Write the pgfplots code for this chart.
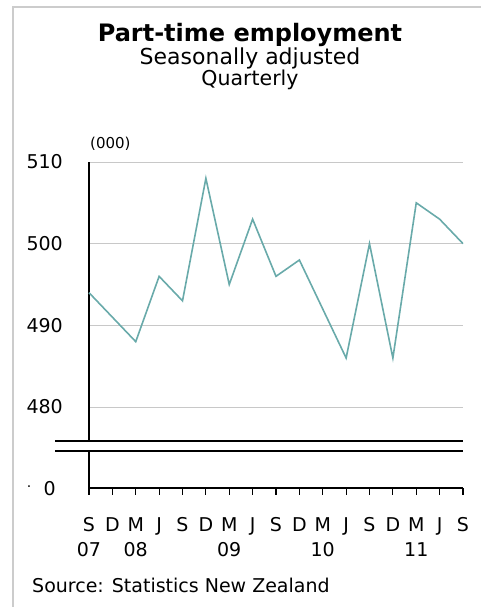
\documentclass[border=0pt]{standalone}
\usepackage{pgfplots}
\pgfplotsset{compat=1.18}
\usepackage{fontspec}
\setmainfont{DejaVu Sans}
\definecolor{serie}{RGB}{105,170,170}
\definecolor{frame}{RGB}{204,204,204}
\definecolor{gridc}{RGB}{200,200,200}
\begin{document}
\begin{tikzpicture}[x=1pt,y=1pt]
\useasboundingbox (0,0) rectangle (481,607);
\draw[frame, line width=2.5pt] (13,0) -- (13,600) -- (481,600);
% titles
\node[anchor=base, font=\bfseries\fontsize{24}{28}\selectfont] at (250,565.3) {Part-time employment};
\node[anchor=base, font=\fontsize{22}{26}\selectfont] at (250,542) {Seasonally adjusted};
\node[anchor=base, font=\fontsize{20.5}{24}\selectfont] at (250,521) {Quarterly};
\node[anchor=base west, inner sep=0pt, font=\fontsize{15}{18}\selectfont] at (90,458) {(000)};
\node[anchor=base west, inner sep=0pt, font=\fontsize{19}{22}\selectfont] at (32,14) {Source: Statistics New Zealand};
\node[inner sep=0pt, font=\fontsize{14}{16}\selectfont] at (29,118) {·};
% main axis
\begin{axis}[
  at={(89pt,166pt)}, anchor=south west,
  width=374pt, height=279pt, scale only axis,
  xmin=0, xmax=16, ymin=475.84, ymax=510,
  axis x line=none, axis y line=left,
  y axis line style={-, line width=1.5pt, black},
  ytick={480,490,500,510},
  major tick length=0pt,
  ymajorgrids, grid style={gridc, line width=0.9pt},
  /pgf/number format/assume math mode=true,
  yticklabel style={font=\fontsize{19}{22}\selectfont, anchor=east, inner sep=0pt, xshift=-26pt},
  clip=false,
]
\addplot[serie, line width=1.6pt] coordinates {
(0,494) (1,491) (2,488) (3,496) (4,493) (5,508) (6,495) (7,503) (8,496)
(9,498) (10,492) (11,486) (12,500) (13,486) (14,505) (15,503) (16,500)
};
\end{axis}
% break lines
\draw[black, line width=1.5pt] (55,166) -- (463,166);
\draw[black, line width=1.5pt] (55,156) -- (463,156);
% bottom axis
\begin{axis}[
  at={(89pt,119pt)}, anchor=south west,
  width=374pt, height=37pt, scale only axis,
  xmin=0, xmax=16, ymin=0, ymax=1,
  axis x line=bottom, axis y line=left,
  axis line style={-, line width=1.5pt, black},
  ytick={0}, y tick style={draw=none},
  /pgf/number format/assume math mode=true,
  yticklabel style={font=\fontsize{19}{22}\selectfont, anchor=east, inner sep=0pt, xshift=-26pt, yshift=-1pt},
  xtick={0,...,16},
  xticklabels={S,D,M,J,S,D,M,J,S,D,M,J,S,D,M,J,S},
  tick align=outside, x tick style={black, line width=1.2pt}, major tick length=7pt,
  xticklabel style={font=\fontsize{19}{22}\selectfont, anchor=north, inner sep=0pt, yshift=-22pt},
  extra x ticks={0,2,6,10,14},
  extra x tick labels={07,08,09,10,11},
  extra x tick style={major tick length=0pt, tick style={draw=none},
    tick label style={font=\fontsize{18.5}{22}\selectfont, anchor=north, inner sep=0pt, yshift=-32pt}},
  clip=false,
]
\addplot[draw=none] coordinates {(0,0) (16,0)};
\end{axis}
\end{tikzpicture}
\end{document}
